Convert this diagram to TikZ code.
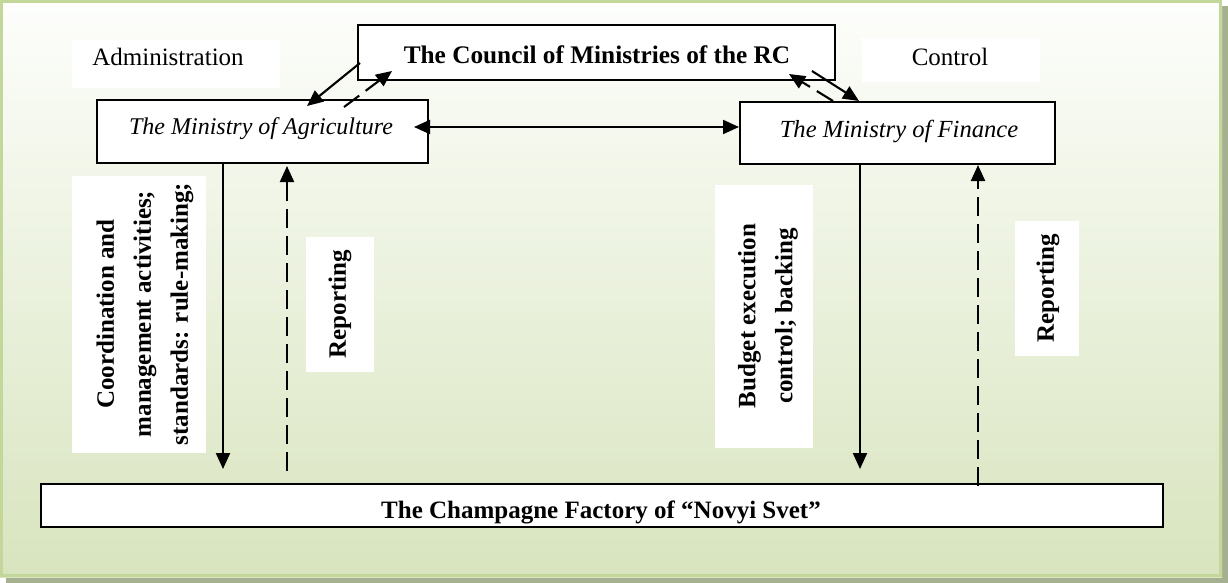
\documentclass[tikz,border=0pt]{standalone}
\usepackage{fontspec}
\setmainfont{Liberation Serif}
\usetikzlibrary{arrows.meta}
\definecolor{bgbottom}{HTML}{D8E4BE}
\definecolor{bgtop}{HTML}{FDFEFC}
\definecolor{frame}{HTML}{C3D79B}
\definecolor{shadowc}{HTML}{A4B08F}
\tikzset{
  box/.style={draw=black, fill=white, line width=2pt, inner sep=0pt},
  lbl/.style={inner sep=0pt, font=\fontsize{25}{38}\selectfont, align=center},
  vlbl/.style={inner sep=0pt, font=\fontsize{25}{37}\selectfont\bfseries, align=center, rotate=90},
  arr/.style={line width=2.1pt, -{Triangle[length=16pt,width=14pt]}},
  darr/.style={arr, dash pattern=on 19pt off 8pt},
  dblarr/.style={line width=2.1pt, {Triangle[length=16pt,width=14pt]}-{Triangle[length=16pt,width=14pt]}},
}
\begin{document}
\begin{tikzpicture}[x=1pt,y=-1pt]
\useasboundingbox (0,0) rectangle (1228,583);
% background
\fill[shadowc] (6,6) rectangle (1228,583);
\shade[top color=bgtop, bottom color=bgbottom] (0,0) rectangle (1222,577);
\draw[frame, line width=3pt] (1.5,1.5) rectangle (1220.5,575.5);
% white label backgrounds
\fill[white] (72,40) rectangle (280,88);
\fill[white] (862,38) rectangle (1040,82);
\fill[white] (72,176) rectangle (206,453);
\fill[white] (306,237) rectangle (374,372);
\fill[white] (715,185) rectangle (813,448);
\fill[white] (1015,221) rectangle (1079,356);
% main boxes
\node[box, minimum width=477pt, minimum height=55pt] (council) at (596.5,52.5) {};
\node[lbl, font=\fontsize{25.3}{30}\selectfont\bfseries] (councilt) at (597,55) {The Council of Ministries of the RC};
\node[box, minimum width=331pt, minimum height=63pt] (agri) at (262.5,131.5) {};
\node[lbl, font=\fontsize{24}{30}\selectfont\itshape] (agrit) at (261,129) {The Ministry of Agriculture};
\node[box, minimum width=315pt, minimum height=62pt] (fin) at (897.5,133) {};
\node[lbl, font=\fontsize{24.6}{30}\selectfont\itshape] (fint) at (899,131) {The Ministry of Finance};
\node[box, minimum width=1122pt, minimum height=43pt] (factory) at (602,505.5) {};
\node[lbl, font=\fontsize{25}{30}\selectfont\bfseries] (factoryt) at (601,512) {The Champagne Factory of “Novyi Svet”};
% side texts
\node[lbl] (adm) at (168,57) {Administration};
\node[lbl] (ctl) at (950,57) {Control};
\node[vlbl] (lab1) at (145,314) {Coordination and\\management activities;\\standards: rule-making;};
\node[vlbl] (rep1) at (340,304) {Reporting};
\node[vlbl] (lab2) at (768,316) {Budget execution\\control; backing};
\node[vlbl] (rep2) at (1048,288) {Reporting};
% connectors
\draw[arr] ([shift={(3,-18)}]council.south west) -- ([shift={(211,7)}]agri.north west);
\draw[darr] ([shift={(248,8)}]agri.north west) -- ([shift={(35,-10)}]council.south west);
\draw[arr] ([shift={(-24,-10)}]council.south east) -- ([shift={(120,0)}]fin.north west);
\draw[darr] ([shift={(94,0)}]fin.north west) -- ([shift={(-47,-7)}]council.south east);
\draw[dblarr] ([shift={(-15,-4.5)}]agri.east) -- ([shift={(0,-6)}]fin.west);
\draw[arr] ([shift={(127,0)}]agri.south west) -- ([shift={(183,-14)}]factory.north west);
\draw[darr] ([shift={(247,-12)}]factory.north west) -- ([shift={(191,2)}]agri.south west);
\draw[arr] ([shift={(121,0)}]fin.south west) -- ([shift={(820,-14)}]factory.north west);
\draw[darr] ([shift={(938,3)}]factory.north west) -- ([shift={(239,0)}]fin.south west);
\end{tikzpicture}
\end{document}
